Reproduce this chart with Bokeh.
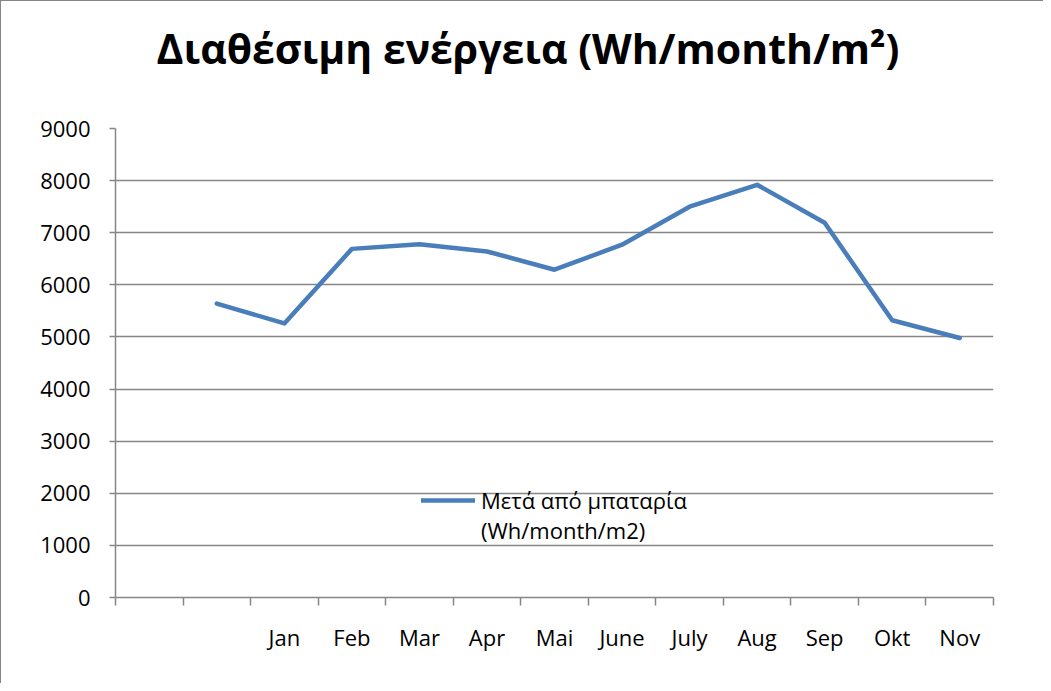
import numpy as np
from bokeh.plotting import figure
from bokeh.models import FixedTicker, Legend, LegendItem, Range1d
from bokeh.embed import file_html
from bokeh.resources import INLINE

title_text = "Διαθέσιμη ενέργεια (Wh/month/m²)"
series_label_1 = "Μετά από μπαταρία"
series_label_2 = "(Wh/month/m2)"
months = ["", "", "Jan", "Feb", "Mar", "Apr", "Mai", "June", "July", "Aug", "Sep", "Okt", "Nov"]
energy = [np.nan, 5640, 5260, 6690, 6780, 6640, 6290, 6770, 7500, 7920, 7190, 5320, 4980]
y_ticks = [0, 1000, 2000, 3000, 4000, 5000, 6000, 7000, 8000, 9000]

FONT = "Open Sans"
GRID = "#868686"

n = len(months)
xs = np.arange(n) + 0.5

p = figure(width=1043, height=683, output_backend="svg", toolbar_location=None,
           x_range=Range1d(0, n), y_range=Range1d(0, 9000),
           min_border_left=114, min_border_right=51, min_border_top=127, min_border_bottom=87)
p.styles = {"border-left": "1px solid #868686", "border-top": "1px solid #868686"}
p.outline_line_color = None
p.background_fill_color = "white"
p.border_fill_color = "white"

p.title.text = title_text
p.title.text_font = FONT
p.title.text_font_size = "41px"
p.title.text_font_style = "bold"
p.title.align = "left"
p.title.offset = 41
p.title.text_color = "black"
p.title.standoff = 0
p.title.padding = dict(top=0, right=0, bottom=53, left=0)

# y axis
p.yaxis.ticker = FixedTicker(ticks=y_ticks, minor_ticks=[])
p.yaxis.axis_line_color = GRID
p.yaxis.axis_line_width = 1.5
p.yaxis.major_tick_line_color = GRID
p.yaxis.major_tick_line_width = 1.5
p.yaxis.major_tick_out = 6
p.yaxis.major_tick_in = 0
p.yaxis.minor_tick_line_color = None
p.yaxis.major_label_text_font = FONT
p.yaxis.major_label_text_font_size = "22px"
p.yaxis.major_label_text_color = "black"
p.yaxis.major_label_standoff = 19

# x axis: labels at slot centres, ticks at slot boundaries
p.xaxis.ticker = FixedTicker(ticks=list(xs), minor_ticks=list(range(n + 1)))
p.xaxis.major_label_overrides = {float(x): m for x, m in zip(xs, months)}
p.xaxis.axis_line_color = GRID
p.xaxis.axis_line_width = 1.5
p.xaxis.major_tick_line_color = None
p.xaxis.minor_tick_line_color = GRID
p.xaxis.minor_tick_line_width = 1.5
p.xaxis.minor_tick_out = 8
p.xaxis.minor_tick_in = 0
p.xaxis.major_label_text_font = FONT
p.xaxis.major_label_text_font_size = "22px"
p.xaxis.major_label_text_color = "black"
p.xaxis.major_label_standoff = 16

p.xgrid.grid_line_color = None
p.ygrid.ticker = FixedTicker(ticks=y_ticks)
p.ygrid.grid_line_color = GRID
p.ygrid.grid_line_width = 1.5

r = p.line(xs, energy, line_color="#4A7EBB", line_width=4.5, line_cap="round", line_join="round")
r_blank = p.line([], [], line_alpha=0)

legend = Legend(items=[LegendItem(label=series_label_1, renderers=[r]),
                       LegendItem(label=series_label_2, renderers=[r_blank])],
                location=(306, 52), orientation="vertical")
legend.background_fill_alpha = 0
legend.border_line_alpha = 0
legend.label_text_font = FONT
legend.label_text_font_size = "22px"
legend.label_text_color = "black"
legend.glyph_width = 54
legend.glyph_height = 20
legend.label_standoff = 6
legend.spacing = 0
legend.padding = 0
legend.margin = 0
p.add_layout(legend, "center")

open("out.html", "w").write(file_html(p, INLINE))
